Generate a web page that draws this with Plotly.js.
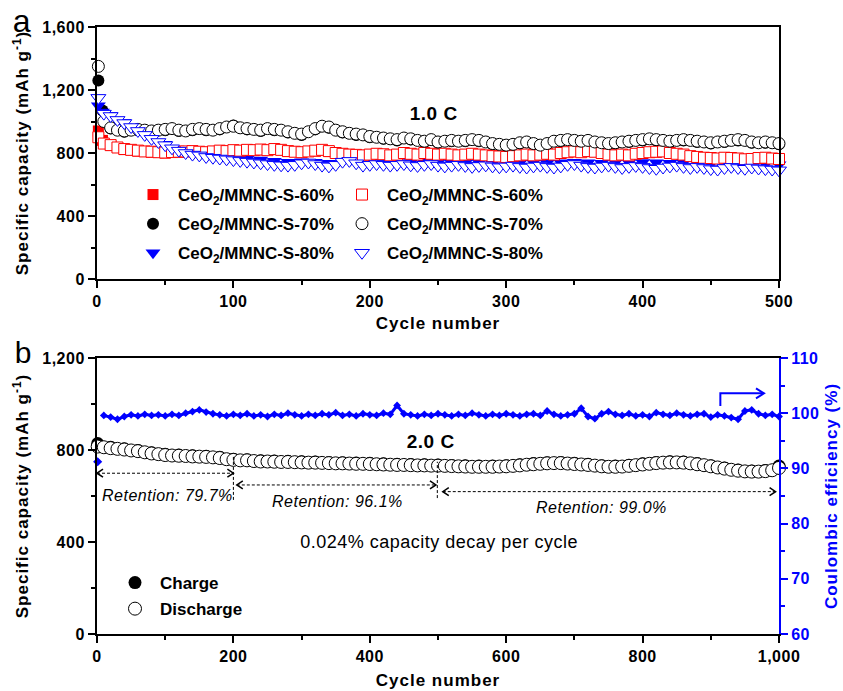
<!DOCTYPE html>
<html><head><meta charset="utf-8">
<script src="https://cdn.plot.ly/plotly-3.0.1.min.js"></script>
<style>
html,body{margin:0;padding:0;background:#fff}#chart{width:843px;height:691px}
#chart text[class*="title"]{letter-spacing:1px}
#chart g.xtick text,#chart g.ytick text,#chart g.x2tick text,#chart g.y2tick text,#chart g.y3tick text{letter-spacing:0.5px}
#chart g.annotation text{letter-spacing:0.5px}
</style>
</head><body><div id="chart"></div>
<script>
// ---------- Panel a data (cycle number vs specific capacity, mAh/g) ----------
const seriesNames = ['CeO<sub>2</sub>/MMNC-S-60%', 'CeO<sub>2</sub>/MMNC-S-70%', 'CeO<sub>2</sub>/MMNC-S-80%'];
// filled markers sampled at cycles 1, 4, 10, 20, ..., 500
const fill60 = [940, 880, 850, 822, 812, 805, 800, 805, 810, 803, 812, 815, 818, 820, 822, 810, 803, 812, 810, 793, 786, 788, 790, 788, 793, 798, 788, 788, 788, 788, 778, 773, 783, 783, 793, 798, 808, 810, 798, 783, 783, 798, 806, 798, 788, 773, 766, 768, 763, 760, 768, 760];
const fill70 = [1260, 1070, 955, 935, 945, 935, 945, 940, 945, 945, 950, 975, 950, 940, 945, 930, 915, 950, 960, 930, 915, 900, 890, 880, 885, 870, 865, 875, 875, 875, 855, 845, 860, 855, 855, 875, 875, 875, 860, 860, 870, 880, 880, 870, 880, 870, 860, 870, 880, 865, 865, 855];
const fill80 = [1100, 1060, 1040, 995, 945, 895, 855, 820, 795, 780, 770, 765, 760, 755, 748, 742, 745, 742, 735, 750, 745, 742, 740, 738, 740, 742, 738, 735, 735, 738, 735, 735, 735, 738, 735, 738, 742, 738, 735, 740, 738, 740, 738, 735, 738, 735, 730, 728, 735, 732, 728, 725];
// open markers sampled at cycles 1, 5, 10, 15, ..., 500
const open60 = [900, 860, 850, 835, 825, 820, 815, 810, 808, 805, 803, 806, 808, 810, 812, 808, 805, 810, 815, 812, 818, 815, 820, 818, 822, 818, 825, 820, 812, 808, 805, 810, 815, 820, 812, 800, 795, 790, 788, 785, 790, 795, 792, 785, 790, 800, 795, 790, 800, 795, 790, 795, 790, 785, 790, 795, 790, 785, 780, 778, 775, 780, 785, 790, 785, 790, 795, 790, 800, 805, 810, 805, 812, 808, 800, 790, 785, 790, 785, 795, 800, 805, 808, 810, 800, 795, 790, 780, 775, 770, 768, 765, 770, 768, 765, 760, 762, 768, 770, 765, 762];
const open70 = [1350, 1000, 960, 945, 940, 945, 950, 945, 940, 945, 950, 955, 945, 940, 950, 955, 950, 945, 955, 965, 970, 960, 955, 950, 945, 955, 950, 945, 935, 925, 920, 935, 955, 970, 965, 945, 935, 925, 920, 915, 905, 900, 895, 890, 885, 895, 890, 880, 875, 885, 870, 875, 880, 875, 880, 885, 880, 870, 860, 855, 850, 855, 865, 870, 860, 850, 860, 875, 880, 885, 880, 875, 880, 870, 865, 860, 865, 870, 875, 880, 885, 890, 885, 880, 875, 880, 885, 880, 875, 870, 865, 870, 875, 880, 885, 880, 870, 865, 870, 865, 860];
const open80 = [1150, 1050, 1035, 1010, 990, 965, 940, 915, 890, 870, 850, 830, 815, 800, 790, 785, 775, 770, 765, 760, 755, 750, 745, 740, 735, 730, 725, 722, 720, 725, 735, 740, 730, 720, 715, 725, 745, 750, 735, 720, 725, 730, 725, 720, 725, 730, 722, 718, 725, 730, 720, 715, 720, 725, 718, 712, 718, 722, 715, 710, 715, 720, 712, 708, 715, 720, 712, 708, 715, 725, 730, 720, 712, 708, 715, 720, 712, 705, 712, 718, 712, 705, 700, 708, 715, 720, 712, 705, 712, 705, 698, 695, 705, 712, 705, 700, 708, 702, 698, 695, 690];

// ---------- Panel b data ----------
// discharge & coulombic efficiency sampled at cycles 1, 10, 20, ..., 1000
const discharge = [815, 812, 808, 805, 802, 798, 795, 790, 785, 782, 778, 776, 775, 774, 772, 771, 770, 768, 765, 760, 757, 755, 755, 752, 750, 750, 749, 748, 748, 747, 746, 745, 745, 744, 743, 742, 742, 741, 740, 740, 739, 738, 737, 736, 735, 735, 734, 733, 733, 732, 732, 731, 730, 729, 728, 727, 727, 727, 727, 728, 729, 731, 733, 736, 738, 740, 742, 743, 743, 741, 739, 737, 735, 732, 729, 727, 727, 728, 731, 734, 737, 740, 743, 745, 746, 746, 745, 742, 738, 734, 729, 724, 719, 714, 710, 707, 706, 706, 708, 712, 722];
const coulombic = [91.2, 99.6, 99.3, 98.9, 99.4, 99.7, 99.5, 99.8, 99.6, 99.7, 99.5, 99.8, 99.6, 100.0, 100.3, 100.6, 100.2, 99.9, 99.7, 99.5, 99.8, 99.6, 99.9, 99.5, 99.7, 99.4, 99.8, 99.6, 100.0, 99.7, 99.5, 99.8, 99.6, 99.9, 99.7, 100.1, 99.6, 99.8, 99.5, 99.9, 99.7, 99.6, 100.0, 99.8, 101.4, 99.9, 99.7, 99.5, 99.8, 99.6, 99.9, 99.7, 99.5, 99.8, 99.6, 100.0, 99.7, 99.5, 99.8, 99.6, 99.9, 99.7, 99.5, 99.8, 99.9, 99.6, 100.4, 99.8, 99.5, 99.7, 99.9, 100.9, 99.4, 99.0, 99.9, 100.3, 99.8, 99.6, 99.9, 99.5, 99.7, 99.4, 100.1, 99.8, 99.6, 100.0, 99.7, 99.5, 99.8, 99.9, 99.3, 99.7, 99.5, 99.2, 98.9, 100.4, 100.6, 99.9, 99.6, 99.8, 99.4];
// charge sampled at cycles 1, 20, 40, ..., 1000
const charge = [828, 812, 805, 798, 788, 781, 778, 775, 773, 768, 760, 758, 753, 752, 751, 749, 748, 746, 745, 743, 742, 740, 738, 737, 736, 735, 733, 731, 730, 730, 732, 736, 741, 745, 746, 742, 738, 732, 730, 734, 740, 746, 749, 748, 741, 732, 722, 713, 709, 711, 730];

// sampling positions (cycle numbers)
function cyc(first, step, end, extra) { const a = [first].concat(extra || []); for (let c = step; c <= end; c += step) a.push(c); return a; }
const fillCycles = cyc(1, 10, 500, [4]);
const openCycles = cyc(1, 5, 500);
const cyclesB = cyc(1, 10, 1000);
const chargeCycles = cyc(1, 20, 1000);

const F = 'Arial, "Liberation Sans", sans-serif';
const RED = '#ff0000', BLUE = '#0000ff', BLK = '#000000';

const traces = [];
const fills = [fill60, fill70, fill80], opens = [open60, open70, open80];
const cols = [RED, BLK, BLUE], syms = ['square', 'circle', 'triangle-down'], sizes = [11, 12, 13];
for (let i = 0; i < 3; i++) traces.push({
  x: fillCycles, y: fills[i], type: 'scatter', mode: 'markers', name: seriesNames[i], legend: 'legend',
  legendgroup: 'f' + i, cliponaxis: false,
  marker: {symbol: syms[i], size: sizes[i], color: cols[i], line: {width: 0}}, xaxis: 'x', yaxis: 'y'
});
for (let i = 0; i < 3; i++) traces.push({
  x: openCycles, y: opens[i], type: 'scatter', mode: 'markers', name: seriesNames[i], legend: 'legend2',
  legendgroup: 'o' + i, cliponaxis: false,
  marker: {symbol: syms[i], size: sizes[i], color: '#ffffff', line: {width: 1, color: cols[i]}}, xaxis: 'x', yaxis: 'y'
});
// panel b
traces.push({x: chargeCycles, y: charge, type: 'scatter', mode: 'markers', name: 'Charge', legend: 'legend3', legendgroup: 'c',
  cliponaxis: false, marker: {symbol: 'circle', size: 13, color: BLK}, xaxis: 'x2', yaxis: 'y2'});
traces.push({x: cyclesB, y: discharge, type: 'scatter', mode: 'markers', name: 'Discharge', legend: 'legend3', legendgroup: 'd',
  cliponaxis: false, marker: {symbol: 'circle', size: 13, color: '#ffffff', line: {width: 1, color: BLK}}, xaxis: 'x2', yaxis: 'y2'});
traces.push({x: cyclesB.slice(0, 1), y: coulombic.slice(0, 1), type: 'scatter', mode: 'markers', showlegend: false,
  cliponaxis: false, marker: {symbol: 'diamond', size: 7, color: BLUE}, xaxis: 'x2', yaxis: 'y3'});
traces.push({x: cyclesB.slice(1), y: coulombic.slice(1), type: 'scatter', mode: 'lines+markers', showlegend: false,
  cliponaxis: false, line: {color: BLUE, width: 3}, marker: {symbol: 'diamond', size: 6, color: BLUE}, xaxis: 'x2', yaxis: 'y3'});

const tickF = {family: F, size: 16, color: BLK, weight: 'bold'};
const titleF = {family: F, size: 17, color: BLK, weight: 'bold'};
function ax(extra) {
  return Object.assign({showline: true, linewidth: 2, linecolor: BLK, ticks: 'outside', ticklen: 7, tickwidth: 2, tickcolor: BLK,
    showgrid: false, zeroline: false, tickfont: tickF, tickformat: ',d', automargin: false}, extra);
}
const W = 682, H = 607, L = 97, T = 27;
const px = v => (v - L) / W, py = v => (634 - v) / H;

const dash = {color: BLK, width: 1, dash: '3px,2px'};
function head(x, y, dir) {
  const d = dir > 0 ? 'M -6 -4 L 0 0 L -6 4' : 'M 6 -4 L 0 0 L 6 4';
  return {type: 'path', xref: 'x2', yref: 'y2', xsizemode: 'pixel', ysizemode: 'pixel', xanchor: x, yanchor: y, path: d,
    line: {color: BLK, width: 1.5}};
}
const shapes = [
  {type: 'line', xref: 'x2', yref: 'y2', x0: 0, x1: 200, y0: 699, y1: 699, line: dash},
  {type: 'line', xref: 'x2', yref: 'y2', x0: 205, x1: 497, y0: 648, y1: 648, line: dash},
  {type: 'line', xref: 'x2', yref: 'y2', x0: 507, x1: 995, y0: 619, y1: 619, line: dash},
  {type: 'line', xref: 'x2', yref: 'y2', x0: 200, x1: 200, y0: 583, y1: 771, line: dash},
  {type: 'line', xref: 'x2', yref: 'y2', x0: 499, x1: 499, y0: 591, y1: 749, line: dash},
  head(0, 699, -1), head(200, 699, 1), head(205, 648, -1), head(497, 648, 1), head(507, 619, -1), head(995, 619, 1),
  {type: 'path', xref: 'x2', yref: 'y3', path: 'M 914,101.3 L 914,103.6 L 976,103.6', line: {color: BLUE, width: 2}},
  {type: 'path', xref: 'x2', yref: 'y3', xsizemode: 'pixel', ysizemode: 'pixel', xanchor: 978, yanchor: 103.6,
   path: 'M -8 -5 L 0 0 L -8 5', line: {color: BLUE, width: 2}}
];
const itF = {family: F, size: 16, color: BLK, style: 'italic'};
const annotations = [
  {xref: 'paper', yref: 'paper', x: px(21.5), y: py(21), xanchor: 'center', yanchor: 'middle', text: 'a', showarrow: false, font: {family: F, size: 32, color: BLK}},
  {xref: 'paper', yref: 'paper', x: px(23.5), y: py(353), xanchor: 'center', yanchor: 'middle', text: 'b', showarrow: false, font: {family: F, size: 30, color: BLK}},
  {xref: 'x', yref: 'y', x: 247, y: 1054, text: '1.0 C', showarrow: false, font: {family: F, size: 19, color: BLK, weight: 'bold'}},
  {xref: 'x2', yref: 'y2', x: 490, y: 835, text: '2.0 C', showarrow: false, font: {family: F, size: 19, color: BLK, weight: 'bold'}},
  {xref: 'x2', yref: 'y2', x: 502, y: 401, text: '0.024% capacity decay per cycle', showarrow: false, font: {family: F, size: 18, color: BLK}},
  {xref: 'x2', yref: 'y2', x: 103, y: 604, text: 'Retention: 79.7%', showarrow: false, font: itF},
  {xref: 'x2', yref: 'y2', x: 352, y: 575, text: 'Retention: 96.1%', showarrow: false, font: itF},
  {xref: 'x2', yref: 'y2', x: 739, y: 548, text: 'Retention: 99.0%', showarrow: false, font: itF}
];
const legF = {family: F, size: 17, color: BLK, weight: 'bold'};
const layout = {
  width: 843, height: 691, margin: {l: L, r: 843 - L - W, t: T, b: 691 - T - H, pad: 0},
  paper_bgcolor: '#fff', plot_bgcolor: '#fff', font: {family: F, color: BLK},
  xaxis: ax({domain: [0, 1], anchor: 'y', range: [0, 500], dtick: 100, mirror: true,
    minor: {dtick: 50, ticklen: 4, tickwidth: 2, ticks: 'outside', tickcolor: BLK},
    title: {text: 'Cycle number', font: titleF, standoff: 8}}),
  yaxis: ax({domain: [py(279), 1], anchor: 'x', range: [0, 1600], dtick: 400, mirror: true,
    minor: {dtick: 200, ticklen: 4, tickwidth: 2, ticks: 'outside', tickcolor: BLK},
    title: {text: 'Specific capacity (mAh g<sup>-1</sup>)', font: titleF, standoff: 12}}),
  xaxis2: ax({domain: [0, 1], anchor: 'y2', range: [0, 1000], dtick: 200, mirror: true,
    minor: {dtick: 100, ticklen: 4, tickwidth: 2, ticks: 'outside', tickcolor: BLK},
    title: {text: 'Cycle number', font: titleF, standoff: 10}}),
  yaxis2: ax({domain: [0, py(358)], anchor: 'x2', range: [0, 1200], dtick: 400,
    minor: {dtick: 200, ticklen: 4, tickwidth: 2, ticks: 'outside', tickcolor: BLK},
    title: {text: 'Specific capacity (mAh g<sup>-1</sup>)', font: titleF, standoff: 12}}),
  yaxis3: ax({overlaying: 'y2', side: 'right', anchor: 'x2', range: [60, 110], dtick: 10, linecolor: BLUE, tickcolor: BLUE,
    tickfont: Object.assign({}, tickF, {color: BLUE}),
    minor: {dtick: 5, ticklen: 4, tickwidth: 2, ticks: 'outside', tickcolor: BLUE},
    title: {text: 'Coulombic efficiency (%)', font: Object.assign({}, titleF, {color: BLUE}), standoff: 8}}),
  showlegend: true,
  legend: {x: px(128), y: py(177), xanchor: 'left', yanchor: 'top', bgcolor: 'rgba(0,0,0,0)', font: legF, itemwidth: 40, itemsizing: 'trace', tracegroupgap: 4},
  legend2: {x: px(337), y: py(177), xanchor: 'left', yanchor: 'top', bgcolor: 'rgba(0,0,0,0)', font: legF, itemwidth: 40, itemsizing: 'trace', tracegroupgap: 4},
  legend3: {x: px(110), y: py(565), xanchor: 'left', yanchor: 'top', bgcolor: 'rgba(0,0,0,0)', font: legF, itemwidth: 40, itemsizing: 'trace', tracegroupgap: 1},
  shapes: shapes, annotations: annotations
};
Plotly.newPlot('chart', traces, layout, {staticPlot: true, displayModeBar: false});
</script></body></html>
